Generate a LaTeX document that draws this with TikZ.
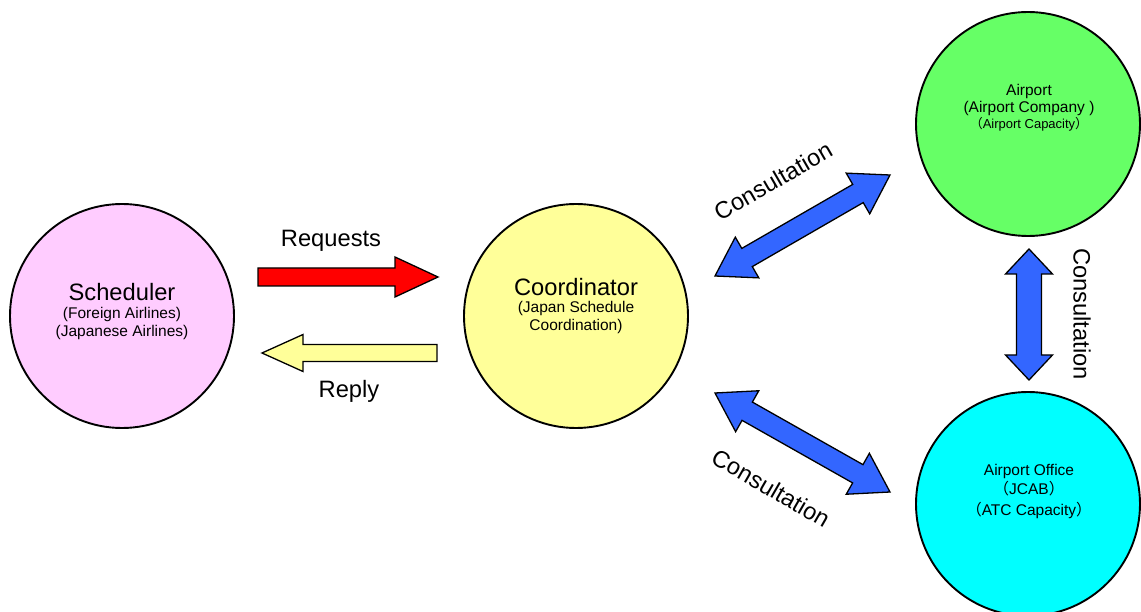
\documentclass[tikz,border=0pt]{standalone}
\usepackage{fontspec}
\setmainfont{Liberation Sans}
\newfontfamily\cjk{Noto Sans CJK JP}
\usetikzlibrary{calc}

\definecolor{schedpink}{HTML}{FFCCFF}
\definecolor{coordyellow}{HTML}{FFFF99}
\definecolor{airportgreen}{HTML}{66FF66}
\definecolor{officecyan}{HTML}{00FFFF}
\definecolor{consultblue}{HTML}{3366FF}
\definecolor{requestred}{HTML}{FF0000}

% block arrow from #2 to #3: #1 style, #4 half shaft, #5 half head, #6 head length
\newcommand\blockgeom[2]{%
  \path let \p1=($(#2)-(#1)$) in
    \pgfextra{\pgfmathsetmacro\bgang{atan2(\y1,\x1)}%
      \pgfmathsetmacro\bglen{veclen(\x1,\y1)}%
      \global\let\bgangG\bgang\global\let\bglenG\bglen};}
\newcommand\blockarrowone[6]{%
  \blockgeom{#2}{#3}%
  \draw[#1,shift={(#2)},rotate=\bgangG]
    (0,-#4) -- (\bglenG-#6,-#4) -- (\bglenG-#6,-#5) -- (\bglenG,0)
    -- (\bglenG-#6,#5) -- (\bglenG-#6,#4) -- (0,#4) -- cycle;}
\newcommand\blockarrowtwo[6]{%
  \blockgeom{#2}{#3}%
  \draw[#1,shift={(#2)},rotate=\bgangG]
    (0,0) -- (#6,-#5) -- (#6,-#4) -- (\bglenG-#6,-#4) -- (\bglenG-#6,-#5)
    -- (\bglenG,0) -- (\bglenG-#6,#5) -- (\bglenG-#6,#4) -- (#6,#4)
    -- (#6,#5) -- cycle;}

\tikzset{
  party/.style={circle, draw=black, line width=1.9pt, minimum size=224pt, inner sep=0pt},
  big/.style={font=\fontsize{23.7}{28}\selectfont, inner sep=0pt},
  mid/.style={font=\fontsize{15.5}{18}\selectfont, inner sep=0pt, anchor=base},
  small/.style={font=\fontsize{13}{15}\selectfont, inner sep=0pt, anchor=base},
  fat/.style={draw=black, line width=1.3pt, line join=miter},
}

\begin{document}
\begin{tikzpicture}[x=1pt,y=-1pt]
\useasboundingbox (0,0) rectangle (1141,612);
\clip (0,0) rectangle (1141,612);

% parties
\node[party, fill=schedpink]    (sched)   at (122,316) {};
\node[party, fill=coordyellow]  (coord)   at (576,316) {};
\node[party, fill=airportgreen] (airport) at (1028,124) {};
\node[party, fill=officecyan]   (office)  at (1028,504) {};

% party texts
\node[big, anchor=base] (schedT1) at (122,301) {Scheduler};
\node[mid] (schedT2) at (122,319) {(Foreign Airlines)};
\node[mid] (schedT3) at (122,337) {(Japanese Airlines)};

\node[big, anchor=base] (coordT1) at (576,296) {Coordinator};
\node[mid] (coordT2) at (576,313) {(Japan Schedule};
\node[mid] (coordT3) at (576,331) {Coordination)};

\node[mid] (airT1) at (1029,96) {Airport};
\node[mid] (airT2) at (1029,113) {(Airport Company )};
\node[small] (airT3) at (1029,129) {{\cjk （}Airport Capacity{\cjk ）}};

\node[mid] (offT1) at (1029,475) {Airport Office};
\node[mid] (offT2) at (1029,494) {{\cjk （}JCAB{\cjk ）}};
\node[mid] (offT3) at (1029,515) {{\cjk （}ATC Capacity{\cjk ）}};

% arrow ends
\coordinate (reqA) at (258,277);
\coordinate (reqB) at (438,277);
\coordinate (repA) at (437,353);
\coordinate (repB) at (262,353);
\coordinate (upA)  at (715,276);
\coordinate (upB)  at (890,175);
\coordinate (loA)  at (715,393);
\coordinate (loB)  at (890,492);
\coordinate (vA)   at (1029,380);
\coordinate (vB)   at (1029,249);

% arrows
\blockarrowone{fat, fill=requestred}{reqA}{reqB}{9}{20}{43}
\blockarrowone{fat, fill=coordyellow}{repA}{repB}{8.5}{18.5}{41}
\blockarrowtwo{fat, fill=consultblue}{upA}{upB}{10.5}{23.5}{37}
\blockarrowtwo{fat, fill=consultblue}{loA}{loB}{10.5}{23.5}{37}
\blockarrowtwo{fat, fill=consultblue}{vA}{vB}{12.5}{23.5}{25}

% arrow labels
\node[big, anchor=base] (reqL) at (331,247) {Requests};
\node[big, anchor=base] (repL) at (349,398) {Reply};
\node[big, rotate=30]  (upL) at (773,181) {Consultation};
\node[big, rotate=-30] (loL) at (771,488) {Consultation};
\node[big, rotate=-90] (vL)  at (1082,314) {Consultation};
\end{tikzpicture}
\end{document}
